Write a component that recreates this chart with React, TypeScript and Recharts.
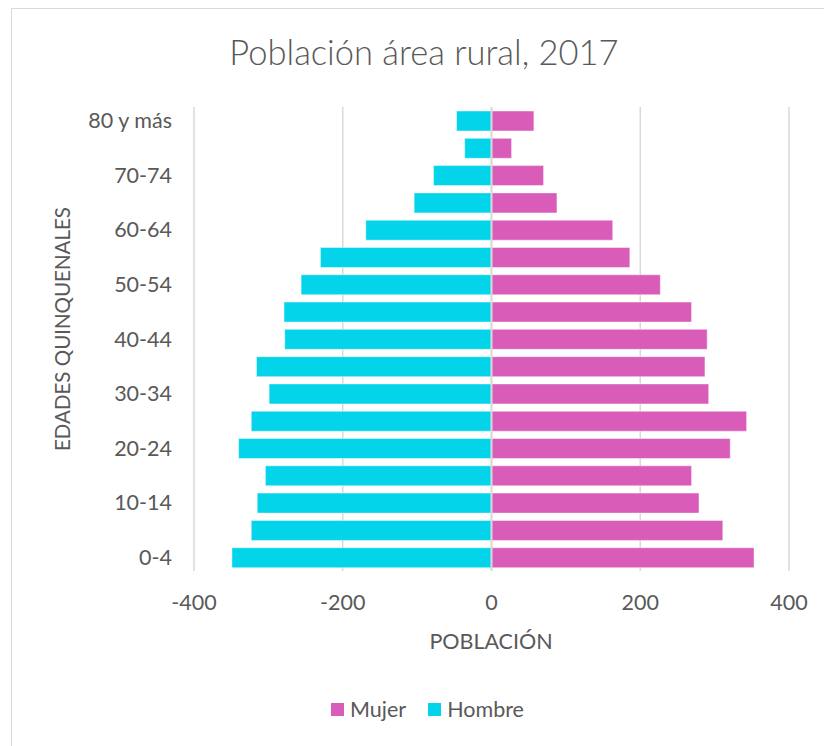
import React from 'react';
import { BarChart, Bar, XAxis, YAxis, CartesianGrid, ReferenceLine, Legend } from 'recharts';

const ageGroups = ['0-4', '5-9', '10-14', '15-19', '20-24', '25-29', '30-34', '35-39', '40-44', '45-49', '50-54', '55-59', '60-64', '65-69', '70-74', '75-79', '80 y más'];
const hombre = [349, 323, 315, 304, 340, 323, 299, 316, 278, 279, 256, 230, 169, 104, 78, 36, 47];
const mujer = [353, 311, 279, 269, 321, 343, 292, 287, 290, 269, 227, 186, 163, 88, 70, 27, 57];
const xTicks = [-400, -200, 0, 200, 400];
const seriesOrder = ['Mujer', 'Hombre'];

const data = ageGroups.map((g, i) => ({ edad: g, Mujer: mujer[i], Hombre: -hombre[i] }));

const FONT = 'Lato, "Open Sans", sans-serif';
const TEXT = '#595959';
const MUJER_COLOR = '#D95DB8';
const HOMBRE_COLOR = '#04D4EA';

const renderLegend = (props: any) => {
  const items = [...(props.payload || [])].sort(
    (a: any, b: any) => seriesOrder.indexOf(a.value) - seriesOrder.indexOf(b.value)
  );
  return (
    <div style={{ display: 'flex', justifyContent: 'center', gap: 22, fontFamily: FONT, fontSize: 21.5, color: TEXT }}>
      {items.map((it: any) => (
        <span key={it.value} style={{ display: 'inline-flex', alignItems: 'center' }}>
          <span style={{ width: 13, height: 13, background: it.color, marginRight: 6, display: 'inline-block' }} />
          <span>{it.value}</span>
        </span>
      ))}
    </div>
  );
};

export default function App() {
  return (
    <div style={{ position: 'fixed', left: 0, top: 0, width: 824, height: 746, overflow: 'hidden', background: '#fff' }}>
      <div style={{ position: 'absolute', left: 11, top: 8, width: 900, height: 900, border: '1px solid #d9d9d9', boxSizing: 'border-box' }} />
      <div style={{ position: 'absolute', left: 0, width: 848, top: 31, textAlign: 'center', fontFamily: FONT, fontSize: 34.5, fontWeight: 300, color: TEXT, lineHeight: '42px' }}>
        Población área rural, 2017
      </div>
      <div style={{ position: 'absolute', left: 0, width: 982, top: 626, textAlign: 'center', fontFamily: FONT, fontSize: 21.5, color: TEXT, lineHeight: '30px' }}>
        POBLACIÓN
      </div>
      <div style={{ position: 'absolute', left: 62, top: 329, width: 0, height: 0 }}>
        <div style={{ position: 'absolute', left: -200, top: -15, width: 400, textAlign: 'center', transform: 'rotate(-90deg)', fontFamily: FONT, fontSize: 20.5, color: TEXT, lineHeight: '30px', whiteSpace: 'nowrap' }}>
          EDADES QUINQUENALES
        </div>
      </div>
      <div style={{ position: 'absolute', left: 0, top: 0 }}>
        <BarChart
          width={824}
          height={746}
          data={data}
          layout="vertical"
          stackOffset="sign"
          margin={{ top: 107, right: 35, bottom: 115, left: 0 }}
        >
          <CartesianGrid horizontal={false} stroke="#d9d9d9" strokeWidth={1.5} />
          <XAxis
            type="number"
            domain={[-400, 400]}
            ticks={xTicks}
            axisLine={false}
            tickLine={false}
            tickMargin={18}
            height={60}
            tick={{ fill: TEXT, fontSize: 21.5, fontFamily: FONT }}
          />
          <YAxis
            type="category"
            dataKey="edad"
            reversed
            interval={1}
            width={194}
            axisLine={false}
            tickLine={false}
            tickMargin={16}
            tick={{ fill: TEXT, fontSize: 21.5, fontFamily: FONT }}
          />
          <Bar dataKey="Mujer" stackId="p" fill={MUJER_COLOR} stroke="#ffffff" strokeOpacity={0.45} strokeWidth={1} barSize={20} isAnimationActive={false} />
          <Bar dataKey="Hombre" stackId="p" fill={HOMBRE_COLOR} stroke="#ffffff" strokeOpacity={0.45} strokeWidth={1} barSize={20} isAnimationActive={false} />
          <ReferenceLine x={0} stroke="#d9d9d9" strokeWidth={2} />
          <Legend
            layout="horizontal"
            verticalAlign="middle"
            align="center"
            content={renderLegend}
            wrapperStyle={{ top: 696, left: 0, width: 855 }}
          />
        </BarChart>
      </div>
    </div>
  );
}
